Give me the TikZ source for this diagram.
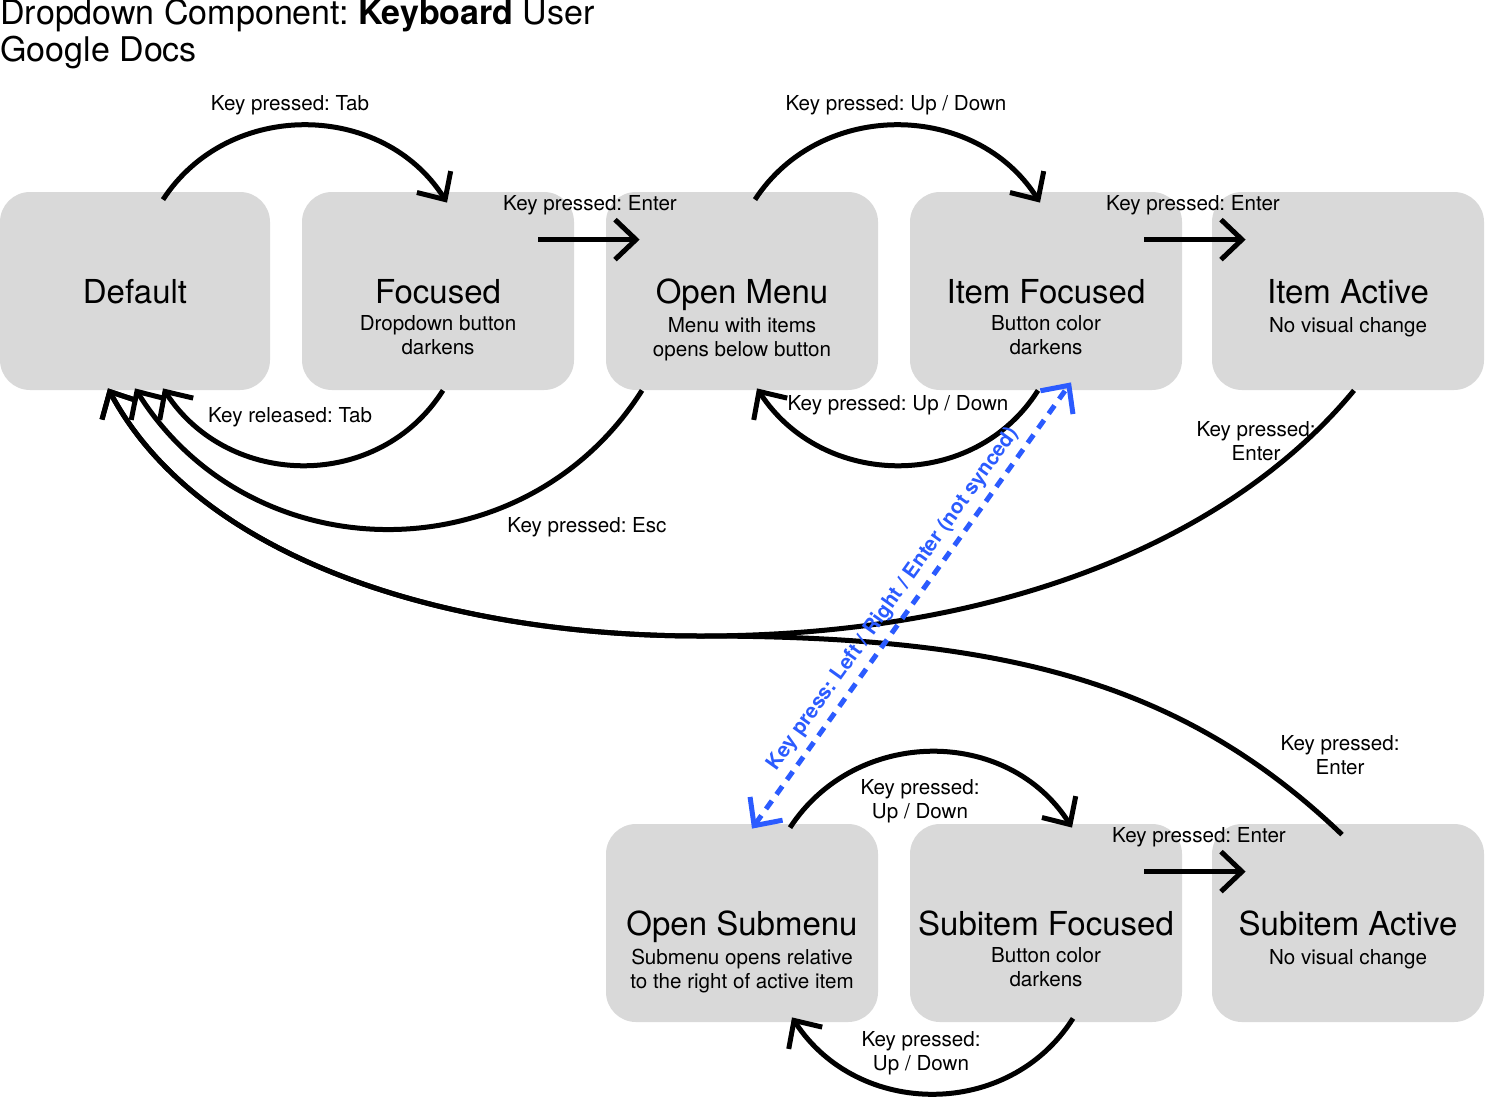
\documentclass[tikz,border=0pt]{standalone}
\usepackage{fontspec}
\setmainfont{TeX Gyre Heros}
\frenchspacing
\usetikzlibrary{arrows.meta,calc}

\definecolor{boxgray}{HTML}{D9D9D9}
\definecolor{syncblue}{HTML}{2B5BFF}

\begin{document}
\begin{tikzpicture}[x=0.5pt, y=-0.5pt,
    state/.style={rectangle, rounded corners=15pt, fill=boxgray, minimum width=136pt,
        minimum height=99pt, inner sep=0pt, text depth=0pt, font=\fontsize{16.5}{20}\selectfont},
    sub/.style={align=center, inner sep=0pt, font=\fontsize{10.3}{12}\selectfont},
    lbl/.style={align=center, inner sep=0pt, font=\fontsize{10.3}{12}\selectfont},
    trans/.style={line width=2.5pt, -{Straight Barb[length=10.5pt, width=20pt]}},
    sync/.style={line width=2.5pt, syncblue, dash pattern=on 5pt off 4pt,
        {Straight Barb[length=10.5pt, width=20pt]}-{Straight Barb[length=10.5pt, width=20pt]}}]
                        \useasboundingbox (0,0) rectangle (1487,1097);

                        \node[anchor=base west, inner sep=0pt, font=\fontsize{17}{20}\selectfont] (title) at (0,25) {Dropdown Component: \textbf{Keyboard} User};
                        \node[anchor=base west, inner sep=0pt, font=\fontsize{17}{20}\selectfont] (docs) at (0,61.5) {Google Docs};

                        \node[state, minimum width=135pt] (default) at (135,291) {Default};
                        \node[state] (focused) at (438,291) {Focused};
                        \node[state] (openmenu) at (742,291) {Open Menu};
                        \node[state] (itemfocused) at (1046,291) {Item Focused};
                        \node[state] (itemactive) at (1348,291) {Item Active};
                        \node[state] (opensub) at (742,923) {Open Submenu};
                        \node[state] (subfocused) at (1046,923) {Subitem Focused};
                        \node[state] (subactive) at (1348,923) {Subitem Active};

                        \node[sub] at ($(focused)+(0,44)$) {Dropdown button\\darkens};
                        \node[sub] at ($(openmenu)+(0,48)$) {Menu with items\\opens below button};
                        \node[sub] at ($(itemfocused)+(0,44)$) {Button color\\darkens};
                        \node[sub] at ($(itemactive)+(0,36)$) {No visual change};
                        \node[sub] at ($(opensub)+(0,48)$) {Submenu opens relative\\to the right of active item};
                        \node[sub] at ($(subfocused)+(0,44)$) {Button color\\darkens};
                        \node[sub] at ($(subactive)+(0,36)$) {No visual change};

                        \coordinate (join) at (700,636);

                        \draw[trans] ($(default.north)+(28,8)$) .. controls +(66,-101) and +(-64,-101) .. ($(focused.north)+(9,11)$);
                        \draw[trans] ($(focused.north east)+(-36,48)$) -- ($(openmenu.north west)+(34,48)$);
                        \draw[trans] ($(openmenu.north)+(13,8)$) .. controls +(66,-101) and +(-64,-101) .. ($(itemfocused.north)+(-6,11)$);
                        \draw[trans] ($(itemfocused.north east)+(-38,48)$) -- ($(itemactive.north west)+(34,48)$);
                        \draw[trans] ($(focused.south)+(5,0)$) .. controls +(-64,101) and +(66,101) .. ($(default.south)+(28,-2)$);
                        \draw[trans] ($(openmenu.south)+(-100,0)$) .. controls +(-118,186) and +(117,186) .. ($(default.south)+(0,-2)$);
                        \draw[trans] ($(itemfocused.south)+(-8,0)$) .. controls +(-64,101) and +(66,101) .. ($(openmenu.south)+(15,-2)$);
                        \draw[trans] ($(itemactive.south)+(6,0)$) .. controls +(-124,150) and +(300,0) .. (join)
                            .. controls +(-250,0) and +(92,172) .. ($(default.south)+(-27,-2)$);
                        \draw[trans] ($(subactive.north)+(-6,11)$) .. controls +(-162,-155) and +(300,0) .. (join)
                            .. controls +(-250,0) and +(92,172) .. ($(default.south)+(-27,-2)$);
                        \draw[trans] ($(opensub.north)+(48,4)$) .. controls +(66,-101) and +(-64,-101) .. ($(subfocused.north)+(26,4)$);
                        \draw[trans] ($(subfocused.north east)+(-38,48)$) -- ($(subactive.north west)+(34,48)$);
                        \draw[trans] ($(subfocused.south)+(27,-4)$) .. controls +(-64,101) and +(66,101) .. ($(opensub.south)+(50,-5)$);

                        \draw[sync] ($(opensub.north)+(10,5)$) -- node[pos=0.49, sloped, above=3pt, inner sep=0pt, text=syncblue,
                            font=\bfseries\fontsize{10.3}{12}\selectfont] {Key press: Left / Right / Enter (not synced)} ($(itemfocused.south)+(25,-8)$);

                        \node[lbl] at (290,105) {Key pressed: Tab};
                        \node[lbl] at (896,105) {Key pressed: Up / Down};
                        \node[lbl] at (590,205) {Key pressed: Enter};
                        \node[lbl] at (1193,205) {Key pressed: Enter};
                        \node[lbl] at (290,417) {Key released: Tab};
                        \node[lbl] at (587,527) {Key pressed: Esc};
                        \node[lbl] at (898,405) {Key pressed: Up / Down};
                        \node[lbl] at (1256,441) {Key pressed:\\Enter};
                        \node[lbl] at (1340,755) {Key pressed:\\Enter};
                        \node[lbl] at (920,801) {Key pressed:\\Up / Down};
                        \node[lbl] at (1199,837) {Key pressed: Enter};
                        \node[lbl] at (921,1053) {Key pressed:\\Up / Down};
                    \end{tikzpicture}
\end{document}
